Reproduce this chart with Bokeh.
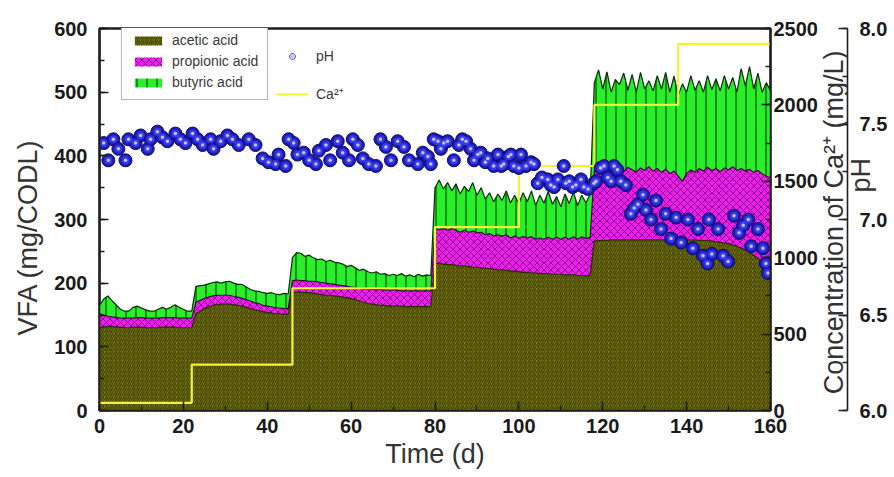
from math import pi

import numpy as np
from bokeh.embed import file_html
from bokeh.layouts import row
from bokeh.models import (ColumnDataSource, Label, Legend, LegendItem, LinearAxis,
                          PrintfTickFormatter, Range1d, SingleIntervalTicker)
from bokeh.plotting import figure
from bokeh.resources import INLINE

# ---- data -----------------------------------------------------------------
days = list(range(161))

# VFA composition (mg COD/L), one value per day
acetic = [
    130, 131, 132, 132, 131, 131, 130, 130, 131, 131, 131, 130, 130, 130, 130, 131, 131, 131, 131, 130, 130, 130, 130,
    152, 156, 160, 163, 165, 166, 167, 167, 167, 166, 165, 164, 162, 160, 158, 157, 155, 154, 153, 152, 152, 151, 151,
    186, 186, 186, 185, 185, 184, 183, 182, 181, 181, 180, 179, 178, 177, 176, 174, 172, 170, 168, 167,
    166, 165, 165, 164, 164, 164, 164, 163, 163, 163, 163, 163, 163, 163,
    231, 231, 230, 229, 229, 228, 227, 227, 226, 225, 225, 224, 223, 223, 222, 221, 221, 220, 219, 219,
    218, 217, 217, 216, 216, 215, 215, 215, 214, 214, 214, 213, 213, 213, 212, 212, 212, 212,
    266, 267, 267, 267, 268, 268, 268, 268, 268, 268, 268, 268, 268, 268, 268, 268, 268, 268, 268, 268,
    268, 268, 268, 268, 268, 267, 267, 267, 266, 265, 264, 263, 262, 260, 258, 255, 252, 248, 244, 239,
    233, 225, 216,
]
propionic = [
    22, 19, 16, 15, 15, 14, 15, 15, 14, 15, 15, 15, 15, 15, 15, 15, 15, 15, 15, 15, 15, 15, 15,
    18, 17, 16, 15, 15, 15, 14, 14, 14, 13, 13, 12, 12, 12, 11, 11, 10, 10, 10, 9, 9, 9, 9,
    18, 19, 18, 19, 18, 19, 19, 19, 19, 18, 18, 18, 18, 18, 18, 19, 20, 21, 23, 23,
    24, 25, 24, 25, 25, 25, 24, 25, 25, 25, 25, 25, 25, 25,
    55, 53, 56, 54, 57, 55, 53, 56, 54, 57, 54, 56, 53, 55, 52, 55, 53, 56, 52, 55,
    53, 56, 54, 57, 53, 56, 54, 57, 55, 58, 55, 59, 56, 60, 57, 61, 58, 60,
    112, 116, 109, 114, 109, 116, 111, 107, 114, 110, 106, 113, 109, 115, 108, 112, 106, 111, 104, 108,
    100, 92, 104, 110, 106, 113, 109, 115, 111, 115, 111, 118, 116, 123, 119, 125, 124, 131, 130, 138,
    139, 143, 150,
]
butyric = [
    13, 25, 32, 25, 20, 14, 11, 11, 17, 18, 15, 13, 11, 11, 14, 16, 13, 16, 20, 17, 14, 11, 11,
    25, 23, 21, 21, 21, 21, 19, 21, 22, 21, 20, 22, 20, 18, 19, 19, 20, 20, 22, 22, 21, 24, 23,
    36, 43, 43, 38, 41, 37, 35, 37, 34, 37, 35, 35, 34, 31, 34, 31, 28, 31, 27, 26,
    28, 24, 26, 23, 25, 23, 27, 23, 25, 22, 26, 23, 25, 24,
    64, 78, 62, 75, 59, 73, 60, 69, 64, 76, 59, 70, 56, 64, 54, 64, 56, 69, 55, 64,
    54, 69, 57, 72, 53, 67, 57, 72, 55, 64, 51, 68, 56, 70, 53, 65, 56, 68,
    137, 152, 129, 151, 123, 136, 133, 155, 121, 150, 126, 150, 128, 135, 126, 146, 131, 152, 128, 149,
    127, 153, 128, 148, 129, 138, 124, 144, 127, 141, 127, 145, 127, 140, 123, 157, 134, 161, 131, 153,
    128, 147, 136,
]

# pH measurements
ph_day = [
    1.0, 2.1, 3.3, 4.5, 6.2, 6.9, 8.6, 9.8, 11.5, 12.2, 13.8, 15.0, 16.2, 18.1, 19.3, 20.5,
    22.2, 23.4, 24.6, 26.5, 27.2, 28.9, 30.5, 31.7, 33.2, 35.6, 37.2, 38.9, 40.3, 42.0, 42.7, 44.4, 45.1,
    46.3, 47.2, 48.7, 50.0, 51.6, 52.3, 54.0, 55.0, 56.8, 58.0, 59.5, 60.4, 61.6, 62.8, 64.2, 65.9,
    67.0, 68.3, 69.5, 71.1, 72.6, 73.8, 75.9, 77.1, 78.3, 79.0,
    79.7, 80.7, 81.4, 82.1, 83.0, 84.5, 85.7, 86.5, 87.4, 88.5, 89.3, 90.2, 90.9, 92.0, 92.6, 94.0,
    95.0, 95.8, 96.4, 97.5, 98.1, 98.8, 100.0, 100.5, 101.7, 102.9, 103.6, 104.5, 105.5, 106.9, 107.6,
    108.4, 109.3, 110.7, 111.2, 112.0, 112.8, 113.6, 114.8, 115.5, 116.5, 117.9,
    118.4, 119.5, 120.3, 121.2, 122.0, 122.7, 123.5, 124.3, 125.5, 126.7, 127.5, 128.4, 129.6, 130.3,
    131.5, 132.7, 133.9, 135.0, 136.3, 137.5, 138.7, 140.3, 141.5, 142.7, 143.9, 145.0, 145.3, 146.0,
    147.5, 148.7, 149.9, 151.3, 152.5, 153.5, 154.7, 155.4, 157.0, 158.2, 158.9, 159.4,
]
ph_value = [
    7.40, 7.31, 7.42, 7.37, 7.31, 7.42, 7.40, 7.44, 7.37, 7.42, 7.46, 7.43, 7.41, 7.45, 7.42, 7.40,
    7.45, 7.42, 7.39, 7.42, 7.37, 7.41, 7.44, 7.42, 7.39, 7.42, 7.39, 7.32, 7.30, 7.29, 7.34, 7.28, 7.42,
    7.40, 7.34, 7.35, 7.31, 7.29, 7.36, 7.39, 7.31, 7.41, 7.35, 7.31, 7.42, 7.39, 7.32, 7.29, 7.28,
    7.42, 7.38, 7.31, 7.41, 7.38, 7.31, 7.29, 7.35, 7.33, 7.29,
    7.42, 7.41, 7.37, 7.40, 7.41, 7.31, 7.39, 7.42, 7.41, 7.37, 7.31, 7.34, 7.35, 7.30, 7.32, 7.28,
    7.34, 7.28, 7.29, 7.33, 7.34, 7.28, 7.27, 7.34, 7.28, 7.30, 7.29, 7.19, 7.22, 7.21, 7.18,
    7.17, 7.21, 7.28, 7.19, 7.20, 7.17, 7.18, 7.21, 7.17, 7.16, 7.19,
    7.20, 7.27, 7.28, 7.22, 7.20, 7.28, 7.26, 7.20, 7.18, 7.03, 7.06, 7.08, 7.13, 7.05,
    7.00, 7.10, 6.95, 7.03, 6.90, 7.01, 6.88, 7.00, 6.85, 6.95, 6.81, 6.77, 7.00, 6.82,
    6.95, 6.81, 6.78, 7.02, 6.93, 6.97, 7.00, 6.86, 6.95, 6.85, 6.77, 6.72,
]

# Ca2+ dosing schedule (mg/L), value holds from each day onward
ca_day = [0, 22, 46, 80, 100, 118, 138, 160]
ca_mgL = [50, 300, 800, 1200, 1600, 2000, 2400, 2400]

FONT = "Liberation Sans"
TITLE_SIZE = "27px"
TITLE_COLOR = "#333333"
HEIGHT = 477
TOP, BOTTOM = 28, 67            # frame borders shared by all panels


def strip(width, frame_width, y_range):
    """Narrow companion panel that carries the titles / the pH scale."""
    f = figure(width=width, height=HEIGHT, output_backend="svg", toolbar_location=None,
               x_range=Range1d(0, frame_width), y_range=y_range,
               x_axis_location=None, y_axis_location=None,
               min_border_left=0, min_border_right=width - frame_width,
               min_border_top=TOP, min_border_bottom=BOTTOM)
    f.outline_line_color = None
    f.xgrid.visible = False
    f.ygrid.visible = False
    f.background_fill_color = "white"
    f.border_fill_color = "white"
    return f


def title_label(x, y, text):
    return Label(x=x, y=y, text=text, angle=pi / 2, text_align="center", text_baseline="middle",
                 text_font=FONT, text_font_size=TITLE_SIZE, text_color=TITLE_COLOR)


def style_axis(ax):
    ax.major_tick_in = 9
    ax.major_tick_out = 0
    ax.minor_tick_in = 5
    ax.minor_tick_out = 0
    ax.axis_line_width = 1.6
    ax.axis_line_color = "#1e1e1e"
    ax.major_tick_line_color = "#1e1e1e"
    ax.minor_tick_line_color = "#1e1e1e"
    ax.major_tick_line_width = 1.6
    ax.minor_tick_line_width = 1.3
    ax.major_label_text_font = FONT
    ax.major_label_text_font_style = "bold"
    ax.major_label_text_font_size = "20px"
    ax.major_label_text_color = "#1a1a1a"
    ax.axis_label_text_font = FONT
    ax.axis_label_text_font_style = "normal"
    ax.axis_label_text_font_size = TITLE_SIZE
    ax.axis_label_text_color = TITLE_COLOR


# ---- main panel: stacked VFA areas, Ca2+ steps and pH markers --------------
ac_top = np.array(acetic, dtype=float)
pr_top = ac_top + np.array(propionic, dtype=float)
bu_top = pr_top + np.array(butyric, dtype=float)
src = ColumnDataSource(dict(day=days, base=np.zeros(len(days)), ac=ac_top, pr=pr_top, bu=bu_top))

p = figure(width=770, height=HEIGHT, output_backend="svg", toolbar_location=None,
           x_range=Range1d(0, 160), y_range=Range1d(0, 600), x_axis_label="Time (d)",
           min_border_left=49, min_border_right=50, min_border_top=TOP, min_border_bottom=BOTTOM)
p.extra_y_ranges = {"ca": Range1d(0, 2500), "ph": Range1d(6, 8)}
p.xgrid.visible = False
p.ygrid.visible = False
p.background_fill_color = "white"
p.border_fill_color = "white"
p.outline_line_color = "#1e1e1e"
p.outline_line_width = 2.5

r_ac = p.varea(x="day", y1="base", y2="ac", source=src, fill_color="#8a8a1c",
               hatch_pattern="/", hatch_color="#3a3a00", hatch_scale=4.5, hatch_weight=1.3)
r_pr = p.varea(x="day", y1="ac", y2="pr", source=src, fill_color="#ec1eec",
               hatch_pattern="x", hatch_color="#8a008a", hatch_scale=7, hatch_weight=1)
r_bu = p.varea(x="day", y1="pr", y2="bu", source=src, fill_color="#28f028",
               hatch_pattern="|", hatch_color="#0c4a0c", hatch_scale=10, hatch_weight=1.2)
p.line("day", "ac", source=src, line_color="#2a2a05", line_width=1.2)
p.line("day", "pr", source=src, line_color="#3a0a3a", line_width=1.2)
p.line("day", "bu", source=src, line_color="#0a2a0a", line_width=1.2)

r_ca = p.step(ca_day, ca_mgL, mode="after", y_range_name="ca", line_color="#f2f23a", line_width=2.2)

# pH markers drawn as shaded spheres: dark rim, brighter body, light core
r_ph = p.scatter(ph_day, ph_value, y_range_name="ph", size=13,
                 fill_color="#1c1cb4", line_color="#0a0a6e", line_width=1)
r_ph_mid = p.scatter(ph_day, ph_value, y_range_name="ph", size=8,
                     fill_color="#3c3cf0", fill_alpha=0.9, line_color=None)
r_ph_hl = p.scatter(ph_day, ph_value, y_range_name="ph", size=3.5,
                    fill_color="#d0d4ff", fill_alpha=0.9, line_color=None)

ca_axis = LinearAxis(y_range_name="ca", ticker=SingleIntervalTicker(interval=500, num_minor_ticks=2))
p.add_layout(ca_axis, "right")
p.below[0].ticker = SingleIntervalTicker(interval=20, num_minor_ticks=2)
p.left[0].ticker = SingleIntervalTicker(interval=100, num_minor_ticks=2)
for ax in [p.below[0], p.left[0], ca_axis]:
    style_axis(ax)
p.below[0].major_label_standoff = 8
p.below[0].axis_label_standoff = 3
p.left[0].major_label_standoff = 12
ca_axis.major_label_standoff = 3

leg_acids = Legend(items=[LegendItem(label="acetic acid", renderers=[r_ac]),
                          LegendItem(label="propionic acid", renderers=[r_pr]),
                          LegendItem(label="butyric acid", renderers=[r_bu])],
                   location=(22, 310), orientation="vertical",
                   label_text_font=FONT, label_text_font_size="14px", label_text_color="#3a3a3a",
                   glyph_width=34, glyph_height=11, label_height=14, label_standoff=7,
                   padding=9, spacing=5, margin=0,
                   border_line_color="#707070", border_line_width=1,
                   background_fill_color="white", background_fill_alpha=1)
leg_lines = Legend(items=[LegendItem(label="pH", renderers=[r_ph, r_ph_mid, r_ph_hl]),
                          LegendItem(label="Ca\u00b2\u207a", renderers=[r_ca])],
                   location=(177, 307), orientation="vertical",
                   label_text_font=FONT, label_text_font_size="14px", label_text_color="#3a3a3a",
                   glyph_width=32, glyph_height=14, label_height=14, label_standoff=8,
                   padding=2, spacing=20, margin=0,
                   border_line_color=None, background_fill_alpha=0)
p.add_layout(leg_acids)
p.add_layout(leg_lines)

# ---- left strip: VFA title -------------------------------------------------
p_left = strip(50, 50, Range1d(0, 600))
p_left.add_layout(title_label(27, 272, "VFA (mg/CODL)"))

# ---- right strip: Ca2+ title inside, pH scale on its right edge -------------
p_right = strip(74, 29, Range1d(6, 8))
ph_axis = LinearAxis(ticker=SingleIntervalTicker(interval=0.5, num_minor_ticks=2),
                     formatter=PrintfTickFormatter(format="%.1f"))
p_right.add_layout(ph_axis, "right")
style_axis(ph_axis)
ph_axis.major_label_standoff = 12
# pH title reads upward from the middle of the scale, tucked back over the tick-label column
ph_axis.axis_label = "\u2003pH"
ph_axis.axis_label_orientation = pi / 2
ph_axis.axis_label_standoff = -29
p_right.add_layout(title_label(14, 6.985, "Concentration of Ca\u00b2\u207a (mg/L)"))

layout = row(p_left, p, p_right)
open("out.html", "w").write(file_html(layout, INLINE))
